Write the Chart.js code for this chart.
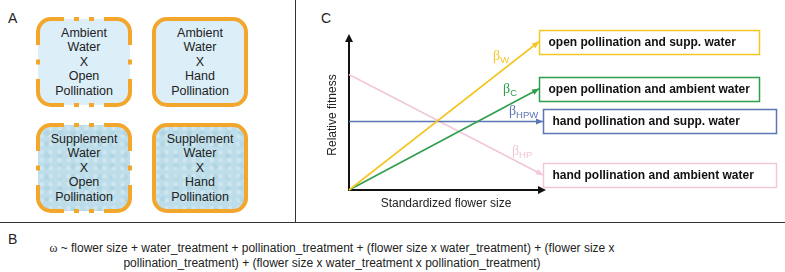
<!DOCTYPE html>
<html>
<head>
<meta charset="utf-8">
<script src="https://cdn.jsdelivr.net/npm/chart.js@4.4.1/dist/chart.umd.min.js"></script>
<style>
  html, body { margin: 0; padding: 0; background: #fff; }
  #page { position: relative; width: 785px; height: 272px; overflow: hidden; font-family: "Liberation Sans", Arial, sans-serif; color: #222; }
  .panel-letter { position: absolute; font-size: 14px; line-height: 16px; }
  .cell { position: absolute; width: 92px; height: 86px; border-radius: 13px; display: flex; align-items: center; justify-content: center; text-align: center; font-size: 12.5px; line-height: 14.4px; }
  .ambient { background: #dceef8; }
  .supp {
    background-color: #bcdde9;
    background-image:
      radial-gradient(circle at 40% 40%, rgba(255,255,255,0.28) 0 1.5px, rgba(255,255,255,0) 3px),
      radial-gradient(circle at 70% 75%, rgba(150,195,212,0.3) 0 2px, rgba(150,195,212,0) 3.5px);
    background-size: 9px 8px, 13px 11px;
  }
  #borders { position: absolute; left: 0; top: 0; }
  #chart { position: absolute; left: 300px; top: 0; }
  .rule-v { position: absolute; left: 295px; top: 0; width: 1px; height: 223px; background: #333; }
  .rule-h { position: absolute; left: 0; top: 222px; width: 785px; height: 1px; background: #333; }
  #formula { position: absolute; left: 0; top: 241px; width: 664px; text-align: center; font-family: "Liberation Sans Narrow", "Arial Narrow", "Liberation Sans", sans-serif; font-stretch: condensed; font-size: 12px; line-height: 15px; color: #222; }
  #formula .omega { font-family: "Liberation Serif", serif; }
</style>
</head>
<body>
<div id="page">
  <div class="panel-letter" style="left:8px;top:10px;">A</div>
  <div class="panel-letter" style="left:321px;top:10px;">C</div>
  <div class="panel-letter" style="left:8px;top:231px;">B</div>

  <div class="cell ambient" style="left:38px;top:19px;">Ambient<br>Water<br>X<br>Open<br>Pollination</div>
  <div class="cell ambient" style="left:154px;top:19px;">Ambient<br>Water<br>X<br>Hand<br>Pollination</div>
  <div class="cell supp" style="left:38px;top:125px;">Supplement<br>Water<br>X<br>Open<br>Pollination</div>
  <div class="cell supp" style="left:154px;top:125px;">Supplement<br>Water<br>X<br>Hand<br>Pollination</div>
  <svg id="borders" width="300" height="222"></svg>

  <div class="rule-v"></div>
  <div class="rule-h"></div>

  <canvas id="chart" width="485" height="222"></canvas>

  <div id="formula"><span class="omega">ω</span> ~ flower size + water_treatment + pollination_treatment + (flower size x water_treatment) + (flower size x<br>pollination_treatment) + (flower size x water_treatment x pollination_treatment)</div>
</div>

<script>
// panel C data: fitness at the smallest and largest standardized flower size
const treatments = [
  "open pollination and supp. water",
  "open pollination and ambient water",
  "hand pollination and supp. water",
  "hand pollination and ambient water"
];
const betaNames = ["W", "C", "HPW", "HP"];
const sizeStart = [0, 0, 0, 0];
const sizeEnd = [0.98, 0.98, 1, 1];
const fitnessStart = [0, 0, 0.457, 0.77];
const fitnessEnd = [0.99, 0.675, 0.457, 0.10];

const lineColors = ["#f5c526", "#2f9e4b", "#5a76b4", "#f1c7da"];
const boxWidths = [220, 220, 233, 233];
// beta label offset from the line end, px
const betaOffsets = [[-42, 15], [-32, 1], [-30, -10], [-27, -24]];

// panel A borders: open pollination is dashed, hand pollination solid
const orange = "#f2a62b";
const svg = document.getElementById("borders");
const NS = "http://www.w3.org/2000/svg";

function addPath(d) {
  const p = document.createElementNS(NS, "path");
  p.setAttribute("d", d);
  p.setAttribute("fill", "none");
  p.setAttribute("stroke", orange);
  p.setAttribute("stroke-width", "4");
  svg.appendChild(p);
}

function dashedEdge(x1, y1, x2, y2) {
  const len = Math.hypot(x2 - x1, y2 - y1);
  const dash = 5, gap = 10;
  const n = Math.max(1, Math.floor((len - gap) / (dash + gap)));
  const used = n * dash + (n - 1) * gap;
  const start = (len - used) / 2;
  const ux = (x2 - x1) / len, uy = (y2 - y1) / len;
  for (let i = 0; i < n; i++) {
    const a = start + i * (dash + gap);
    const b = a + dash;
    addPath(`M${x1 + ux * a},${y1 + uy * a} L${x1 + ux * b},${y1 + uy * b}`);
  }
}

function cellBorder(x, y, w, h, dashed) {
  const r = 13;
  if (!dashed) {
    const rect = document.createElementNS(NS, "rect");
    rect.setAttribute("x", x); rect.setAttribute("y", y);
    rect.setAttribute("width", w); rect.setAttribute("height", h);
    rect.setAttribute("rx", r);
    rect.setAttribute("fill", "none");
    rect.setAttribute("stroke", orange);
    rect.setAttribute("stroke-width", "4");
    svg.appendChild(rect);
    return;
  }
  const e = 13;
  // corners
  addPath(`M${x},${y + r + e} L${x},${y + r} A${r},${r} 0 0 1 ${x + r},${y} L${x + r + e},${y}`);
  addPath(`M${x + w - r - e},${y} L${x + w - r},${y} A${r},${r} 0 0 1 ${x + w},${y + r} L${x + w},${y + r + e}`);
  addPath(`M${x + w},${y + h - r - e} L${x + w},${y + h - r} A${r},${r} 0 0 1 ${x + w - r},${y + h} L${x + w - r - e},${y + h}`);
  addPath(`M${x + r + e},${y + h} L${x + r},${y + h} A${r},${r} 0 0 1 ${x},${y + h - r} L${x},${y + h - r - e}`);
  // dashes between corners
  dashedEdge(x + r + e, y, x + w - r - e, y);
  dashedEdge(x + w, y + r + e, x + w, y + h - r - e);
  dashedEdge(x + r + e, y + h, x + w - r - e, y + h);
  dashedEdge(x, y + r + e, x, y + h - r - e);
}

cellBorder(38, 19, 92, 86, true);
cellBorder(154, 19, 92, 86, false);
cellBorder(38, 125, 92, 86, true);
cellBorder(154, 125, 92, 86, false);

// arrows, beta labels and treatment boxes for panel C
const annotations = {
  id: "annotations",
  afterDraw(chart) {
    const ctx = chart.ctx;
    const { left, right, top, bottom } = chart.chartArea;

    function head(x, y, angle, color, len, half) {
      ctx.save();
      ctx.translate(x, y);
      ctx.rotate(angle);
      ctx.fillStyle = color;
      ctx.beginPath();
      ctx.moveTo(0, 0);
      ctx.lineTo(-len, -half);
      ctx.lineTo(-len, half);
      ctx.closePath();
      ctx.fill();
      ctx.restore();
    }

    // axis extensions and arrowheads
    ctx.save();
    ctx.strokeStyle = "#111";
    ctx.lineWidth = 2;
    ctx.beginPath();
    ctx.moveTo(left, top);
    ctx.lineTo(left, top - 2);
    ctx.moveTo(right, bottom);
    ctx.lineTo(right + 1, bottom);
    ctx.stroke();
    ctx.restore();
    head(left, top - 6, -Math.PI / 2, "#111", 8, 4);
    head(right + 3, bottom, 0, "#111", 8, 4);

    chart.data.datasets.forEach((ds, i) => {
      const pts = chart.getDatasetMeta(i).data;
      const p0 = pts[0], p1 = pts[pts.length - 1];
      const ang = Math.atan2(p1.y - p0.y, p1.x - p0.x);
      head(p1.x, p1.y, ang, ds.borderColor, 7, 3);

      // beta label
      const bx = p1.x + betaOffsets[i][0];
      const by = p1.y + betaOffsets[i][1];
      ctx.save();
      ctx.fillStyle = ds.borderColor;
      ctx.textBaseline = "middle";
      ctx.textAlign = "left";
      ctx.font = "14px 'Liberation Serif', serif";
      ctx.fillText("β", bx - 4, by);
      const bw = ctx.measureText("β").width;
      ctx.font = "9.5px 'Liberation Sans', Arial, sans-serif";
      ctx.fillText(betaNames[i], bx - 4 + bw, by + 4);
      ctx.restore();

      // treatment box
      const x = Math.round(p1.x) + 0.5;
      const y = Math.round(p1.y - 12) + 0.5;
      ctx.save();
      ctx.strokeStyle = ds.borderColor;
      ctx.lineWidth = 1.5;
      ctx.fillStyle = "#fff";
      ctx.fillRect(x, y, boxWidths[i], 24);
      ctx.strokeRect(x, y, boxWidths[i], 24);
      ctx.fillStyle = "#111";
      ctx.font = "bold 12px 'Liberation Sans', Arial, sans-serif";
      ctx.textBaseline = "middle";
      ctx.fillText(treatments[i], x + 9, y + 12.5);
      ctx.restore();
    });
  }
};

new Chart(document.getElementById("chart"), {
  type: "scatter",
  data: {
    datasets: treatments.map((t, i) => ({
      label: t,
      data: [
        { x: sizeStart[i], y: fitnessStart[i] },
        { x: sizeEnd[i], y: fitnessEnd[i] }
      ],
      showLine: true,
      borderColor: lineColors[i],
      backgroundColor: lineColors[i],
      borderWidth: 1.6,
      pointRadius: 0,
      tension: 0,
      clip: false
    }))
  },
  options: {
    responsive: false,
    animation: false,
    layout: { padding: { left: 25.8, right: 242, top: 40, bottom: 11.6 } },
    plugins: { legend: { display: false }, tooltip: { enabled: false } },
    scales: {
      x: {
        type: "linear", min: 0, max: 1,
        grid: { display: false, drawTicks: false },
        ticks: { display: false },
        border: { color: "#111", width: 2 },
        title: {
          display: true, text: "Standardized flower size", color: "#222",
          font: { family: "'Liberation Sans', Arial, sans-serif", size: 12 },
          padding: { top: 6, bottom: 0 }
        }
      },
      y: {
        type: "linear", min: 0, max: 1,
        grid: { display: false, drawTicks: false },
        ticks: { display: false },
        border: { color: "#111", width: 2 },
        title: {
          display: true, text: "Relative fitness", color: "#222",
          font: { family: "'Liberation Sans', Arial, sans-serif", size: 12 },
          padding: { top: 0, bottom: 8.8 }
        }
      }
    }
  },
  plugins: [annotations]
});
</script>
</body>
</html>
